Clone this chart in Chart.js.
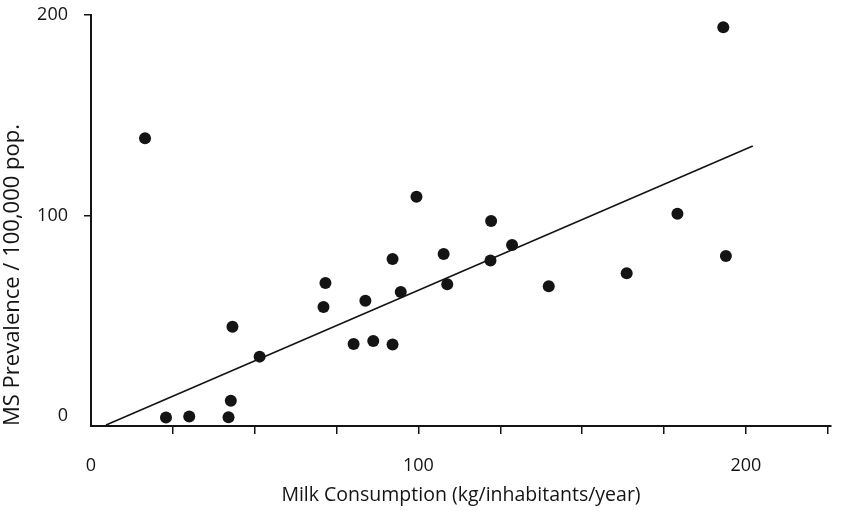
<!DOCTYPE html>
<html>
<head>
<meta charset="utf-8">
<script src="https://cdn.jsdelivr.net/npm/chart.js@4.4.1/dist/chart.umd.min.js"></script>
<style>
  html, body { margin: 0; padding: 0; background: #fff; }
</style>
</head>
<body>
<canvas id="chart" width="851" height="511"></canvas>
<script>
// milk consumption (kg/inhabitant/year) vs MS prevalence per 100,000
const milk = [16.5, 22.9, 30.0, 42.0, 42.7, 43.2, 51.5, 71.0, 71.6, 80.2, 83.8, 86.2, 92.1,
              92.1, 94.6, 99.4, 107.7, 108.8, 122.2, 122.0, 128.6, 139.8, 163.6, 179.1, 193.1, 193.9];
const prevalence = [138.5, -0.8, -0.3, -0.6, 7.6, 44.5, 29.6, 54.4, 66.3, 35.9, 57.5, 37.4, 78.3,
                    35.6, 61.8, 109.4, 80.8, 65.7, 97.3, 77.5, 85.3, 64.7, 71.2, 100.9, 193.9, 79.8];

// regression line end points
const fitX = [4.6, 202.1];
const fitY = [-4.5, 134.7];

const xTicks = [0, 25, 50, 75, 100, 125, 150, 175, 200, 225];
const xTickLabels = ['0', '', '', '', '100', '', '', '', '200', ''];
const yTicks = [0, 100, 200];
const yTickLabels = ['0', '100', '200'];

const ink = '#141414';
const family = "'Open Sans', sans-serif";

new Chart(document.getElementById('chart'), {
    type: 'scatter',
    data: {
        datasets: [
            {
                label: 'Countries',
                data: milk.map((x, i) => ({ x, y: prevalence[i] })),
                backgroundColor: ink,
                borderWidth: 0,
                pointRadius: 6,
                pointHoverRadius: 6,
            },
            {
                label: 'Fit',
                data: fitX.map((x, i) => ({ x, y: fitY[i] })),
                showLine: true,
                borderColor: ink,
                borderWidth: 1.6,
                pointRadius: 0,
            }
        ]
    },
    options: {
        responsive: false,
        animation: false,
        layout: { padding: { top: 15, right: 20, left: 0, bottom: 0 } },
        plugins: { legend: { display: false }, tooltip: { enabled: false } },
        scales: {
            x: {
                type: 'linear',
                min: 0,
                max: 226,
                afterBuildTicks: axis => { axis.ticks = xTicks.map(v => ({ value: v })); },
                afterFit: axis => {
                    axis.height = 85;
                    axis.paddingLeft = 0;
                    axis.paddingRight = 0;
                },
                ticks: {
                    color: ink,
                    font: { family, size: 18 },
                    padding: 21,
                    maxRotation: 0,
                    autoSkip: false,
                    callback: (v, i) => xTickLabels[i],
                },
                grid: {
                    drawOnChartArea: false,
                    tickLength: 8,
                    lineWidth: 1.5,
                    color: ctx => (ctx.tick && ctx.tick.value === 0 ? 'rgba(0,0,0,0)' : ink),
                },
                border: { display: true, color: ink, width: 2 },
                title: {
                    display: true,
                    text: 'Milk Consumption (kg/inhabitants/year)',
                    color: ink,
                    font: { family, size: 19.5 },
                    padding: { top: 0, bottom: 4 },
                },
            },
            y: {
                type: 'linear',
                min: -5,
                max: 200,
                afterBuildTicks: axis => { axis.ticks = yTicks.map(v => ({ value: v })); },
                afterFit: axis => {
                    axis.width = 91;
                    axis.paddingTop = 0;
                    axis.paddingBottom = 0;
                },
                ticks: {
                    color: ink,
                    font: { family, size: 18 },
                    padding: 16,
                    autoSkip: false,
                    callback: (v, i) => yTickLabels[i],
                },
                grid: {
                    drawOnChartArea: false,
                    tickLength: 7,
                    lineWidth: 1.5,
                    color: ctx => (ctx.tick && ctx.tick.value === 0 ? 'rgba(0,0,0,0)' : ink),
                },
                border: { display: true, color: ink, width: 2 },
                title: {
                    display: true,
                    text: 'MS Prevalence / 100,000 pop.',
                    align: 'start',
                    color: ink,
                    font: { family, size: 22 },
                    padding: { top: 0, bottom: 0 },
                },
            }
        }
    }
});
</script>
</body>
</html>
